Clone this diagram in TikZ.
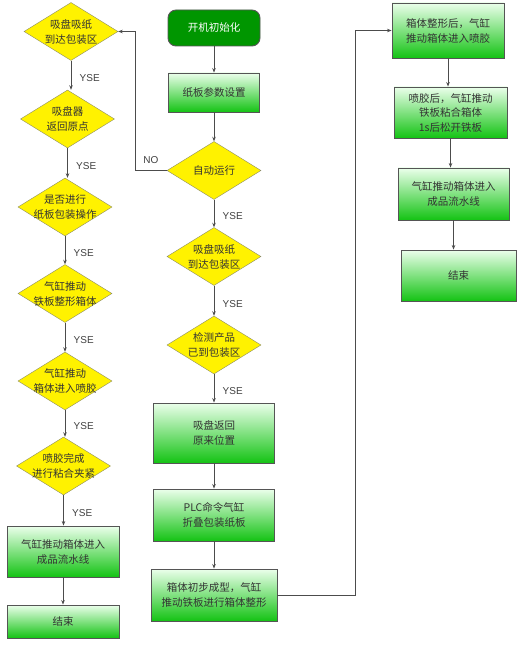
\documentclass[tikz,border=0pt]{standalone}
\usepackage{fontspec}
\setmainfont{Noto Sans CJK SC}
\newfontfamily\latinfont{Liberation Sans}
\usetikzlibrary{shapes.geometric,arrows.meta}
\definecolor{boxtop}{RGB}{235,255,235}
\definecolor{boxbottom}{RGB}{20,195,20}
\definecolor{startfill}{RGB}{0,150,0}
\definecolor{edgegray}{RGB}{85,85,85}
\definecolor{diamondedge}{RGB}{140,140,100}
\tikzset{
  procbox/.style={draw=edgegray, line width=0.9pt, top color=boxtop, bottom color=boxbottom,
    align=center, text=black!80, font=\fontsize{10.5}{15}\selectfont, inner sep=0pt},
  startbox/.style={draw=edgegray, line width=0.9pt, fill=startfill, rounded corners=8pt,
    text=white, font=\fontsize{10.5}{15}\selectfont, inner sep=0pt},
  decision/.style={diamond, draw=diamondedge, fill=yellow, inner sep=0pt,
    minimum width=94pt, minimum height=58pt,
    label={[align=center, text=black!80, font=\fontsize{10.5}{15}\selectfont]center:#1}},
  flow/.style={draw=black!70, line width=0.8pt, ->},
  yse/.style={right, xshift=5pt, pos=0.6, font=\latinfont\fontsize{10}{12}\selectfont, text=black!75}
}
\begin{document}
\begin{tikzpicture}[x=1pt, y=-1pt, >={Stealth[length=4.5pt,width=3.5pt]}]
    \path[fill=white, use as bounding box] (0,0) rectangle (520,647);

    % centre column
    \node[startbox, minimum width=92pt, minimum height=36pt] (init) at (214,28) {开机初始化};
    \node[procbox, minimum width=91pt, minimum height=39pt] (param) at (214,92.5) {纸板参数设置};
    \node[decision={自动运行}] (auto) at (214,170.5) {};
    \node[decision={吸盘吸纸\\到达包装区}] (grab) at (214,256.5) {};
    \node[decision={检测产品\\已到包装区}] (detect) at (214,345) {};
    \node[procbox, minimum width=121pt, minimum height=60pt] (back) at (214,433) {吸盘返回\\原来位置};
    \node[procbox, minimum width=121pt, minimum height=52pt] (fold) at (214,515) {PLC命令气缸\\折叠包装纸板};
    \node[procbox, minimum width=126pt, minimum height=52pt] (form) at (214,595) {箱体初步成型，气缸\\推动铁板进行箱体整形};

    % left column
    \node[decision={吸盘吸纸\\到达包装区}] (lgrab) at (71,31.5) {};
    \node[decision={吸盘器\\返回原点}] (lhome) at (67.5,119) {};
    \node[decision={是否进行\\纸板包装操作}] (lask) at (65,207) {};
    \node[decision={气缸推动\\铁板整形箱体}] (lshape) at (65,293.5) {};
    \node[decision={气缸推动\\箱体进入喷胶}] (lglue) at (65,381) {};
    \node[decision={喷胶完成\\进行粘合夹紧}] (lclamp) at (63.5,466) {};
    \node[procbox, minimum width=112pt, minimum height=51pt] (lout) at (63,551.5) {气缸推动箱体进入\\成品流水线};
    \node[procbox, minimum width=112pt, minimum height=33pt] (lend) at (63,621.5) {结束};

    % right column
    \node[procbox, minimum width=112pt, minimum height=55pt] (rglue) at (448,30.5) {箱体整形后，气缸\\推动箱体进入喷胶};
    \node[procbox, minimum width=113pt, minimum height=51pt, font=\fontsize{10.5}{14.5}\selectfont] (rpress) at (450.5,112.5) {喷胶后，气缸推动\\铁板粘合箱体\\1s后松开铁板};
    \node[procbox, minimum width=111pt, minimum height=52pt] (rout) at (453.5,194) {气缸推动箱体进入\\成品流水线};
    \node[procbox, minimum width=115pt, minimum height=51pt] (rend) at (458.5,275.5) {结束};

    \coordinate (nobend) at (135,0);
    \coordinate (formbend) at (355,595);

    \draw[flow] (init) -- (param);
    \draw[flow] (param) -- (auto);
    \draw[flow] (auto) -- node[yse] {YSE} (grab);
    \draw[flow] (grab) -- node[yse] {YSE} (detect);
    \draw[flow] (detect) -- node[yse] {YSE} (back);
    \draw[flow] (back) -- (fold);
    \draw[flow] (fold) -- (form);
    \draw[flow] (form.east) -- (formbend) |- (rglue.west);
    \draw[flow] (auto.west) -- node[above=3pt, font=\latinfont\fontsize{10}{12}\selectfont, text=black!75] {NO} (auto.west -| nobend) |- (lgrab.east);

    \draw[flow] (lgrab.south) -- node[yse] {YSE} (lgrab.south |- lhome.north);
    \draw[flow] (lhome.south) -- node[yse] {YSE} (lhome.south |- lask.north);
    \draw[flow] (lask.south) -- node[yse] {YSE} (lask.south |- lshape.north);
    \draw[flow] (lshape.south) -- node[yse] {YSE} (lshape.south |- lglue.north);
    \draw[flow] (lglue.south) -- node[yse] {YSE} (lglue.south |- lclamp.north);
    \draw[flow] (lclamp.south) -- node[yse] {YSE} (lclamp.south |- lout.north);
    \draw[flow] (lout.south) -- (lout.south |- lend.north);

    \draw[flow] (rglue.south) -- (rglue.south |- rpress.north);
    \draw[flow] (rpress.south) -- (rpress.south |- rout.north);
    \draw[flow] (rout.south) -- (rout.south |- rend.north);

\end{tikzpicture}
\end{document}
